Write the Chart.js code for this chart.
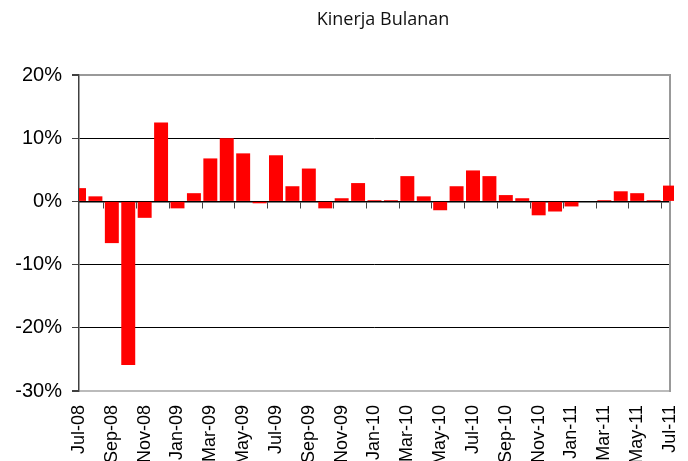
<!DOCTYPE html>
<html>
<head>
<meta charset="utf-8">
<script src="https://cdn.jsdelivr.net/npm/chart.js@4"></script>
<style>
    html, body { margin: 0; padding: 0; background: #fff; }
    #wrap { width: 688px; height: 461px; }
</style>
</head>
<body>
<div id="wrap"><canvas id="chart" width="688" height="461"></canvas></div>
<script>
const chartTitle = 'Kinerja Bulanan';

const months = [
    'Jul-08', 'Aug-08', 'Sep-08', 'Oct-08', 'Nov-08', 'Dec-08',
    'Jan-09', 'Feb-09', 'Mar-09', 'Apr-09', 'May-09', 'Jun-09',
    'Jul-09', 'Aug-09', 'Sep-09', 'Oct-09', 'Nov-09', 'Dec-09',
    'Jan-10', 'Feb-10', 'Mar-10', 'Apr-10', 'May-10', 'Jun-10',
    'Jul-10', 'Aug-10', 'Sep-10', 'Oct-10', 'Nov-10', 'Dec-10',
    'Jan-11', 'Feb-11', 'Mar-11', 'Apr-11', 'May-11', 'Jun-11',
    'Jul-11'
];

// monthly return, in percent
const monthlyReturn = [
    2.1, 0.8, -6.6, -25.9, -2.6, 12.5,
    -1.1, 1.3, 6.8, 10.0, 7.6, -0.3,
    7.3, 2.4, 5.2, -1.1, 0.5, 2.9,
    0.2, 0.2, 4.0, 0.8, -1.4, 2.4,
    4.9, 4.0, 1.0, 0.5, -2.2, -1.6,
    -0.8, 0.0, 0.2, 1.6, 1.3, 0.2,
    2.5
];

const yTicks = [-30, -20, -10, 0, 10, 20];

const titlePlugin = {
    id: 'titleText',
    afterDraw(chart) {
        const ctx = chart.ctx;
        ctx.save();
        ctx.font = '18px "Open Sans"';
        ctx.fillStyle = '#111';
        ctx.textAlign = 'center';
        ctx.textBaseline = 'middle';
        ctx.fillText(chartTitle, 383, 20);
        ctx.restore();
    }
};

new Chart(document.getElementById('chart'), {
    type: 'bar',
    data: {
        labels: months,
        datasets: [{
            data: monthlyReturn,
            backgroundColor: '#ff0000',
            borderWidth: 0,
            barPercentage: 0.85,
            categoryPercentage: 1,
            clip: { left: 0, top: 0, right: 4, bottom: 0 }
        }]
    },
    options: {
        responsive: false,
        animation: false,
        layout: { padding: { top: 75, right: 18, left: 0, bottom: 0 } },
        plugins: {
            legend: { display: false },
            tooltip: { enabled: false }
        },
        scales: {
            x: {
                offset: false,
                border: { display: false },
                grid: { display: false },
                ticks: {
                    autoSkip: false,
                    minRotation: 90,
                    maxRotation: 90,
                    padding: 6,
                    color: '#000',
                    font: { family: 'Liberation Sans, Arial', size: 18 },
                    callback: (v, i) => (i % 2 === 0 ? months[i] : '')
                },
                afterFit: s => {
                    s.height = 70;
                    s.paddingLeft = 0;
                    s.paddingRight = 0;
                }
            },
            x2: {
                type: 'category',
                labels: months,
                offset: false,
                position: { y: 0 },
                border: { display: true, color: '#000', width: 1.5 },
                grid: {
                    drawOnChartArea: false,
                    drawTicks: true,
                    tickLength: 6,
                    tickColor: c => (c.index % 2 === 0 ? '#444' : 'rgba(0,0,0,0)')
                },
                ticks: { display: false, autoSkip: false }
            },
            y: {
                min: -30,
                max: 20,
                afterBuildTicks: s => { s.ticks = yTicks.map(v => ({ value: v })); },
                border: { color: '#404040', width: 1.5 },
                grid: {
                    color: c => {
                        if (c.tick.value === 20) return '#999';
                        if (c.tick.value === -30) return '#bbb';
                        return '#000';
                    },
                    lineWidth: c => (c.tick.value === 20 || c.tick.value === -30 ? 2 : 1),
                    tickLength: 7,
                    tickColor: '#404040'
                },
                ticks: {
                    padding: 10,
                    color: '#000',
                    font: { family: 'Liberation Sans, Arial', size: 20 },
                    callback: v => v + '%'
                },
                afterFit: s => { s.width = 79; }
            },
            y2: {
                position: 'right',
                min: -30,
                max: 20,
                border: { color: '#999', width: 2 },
                grid: { drawOnChartArea: false, drawTicks: false },
                ticks: { display: false },
                afterFit: s => { s.width = 0; }
            }
        }
    },
    plugins: [titlePlugin]
});
</script>
</body>
</html>
